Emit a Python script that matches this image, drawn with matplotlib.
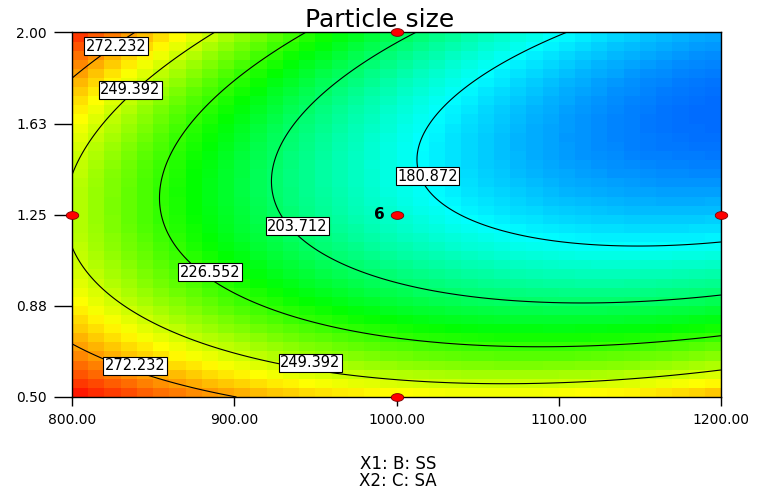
import numpy as np
import matplotlib
matplotlib.use("Agg")
import matplotlib.pyplot as plt
from matplotlib.colors import LinearSegmentedColormap
from matplotlib.path import Path

plt.rcParams['font.family'] = ['DejaVu Sans']

# ---- data ----
title = "Particle size"
x_range = [800.0, 1200.0]          # B: SS
y_range = [0.50, 2.00]             # C: SA
x_ticks = [800, 900, 1000, 1100, 1200]
x_tick_labels = ["800.00", "900.00", "1000.00", "1100.00", "1200.00"]
y_ticks = [0.50, 0.875, 1.25, 1.625, 2.00]
y_tick_labels = ["0.50", "0.88", "1.25", "1.63", "2.00"]
contour_levels = [180.872, 203.712, 226.552, 249.392, 272.232]

# quadratic response-surface coefficients (coded units), estimated from contours
b0 = 187.4
b1 = -37.7     # SS
b2 = -26.5     # SA
b12 = -24.6    # SS*SA
b11 = 22.5     # SS^2
b22 = 46.4     # SA^2

# design points
design_x = [800, 1000, 1200, 1000, 1000]
design_y = [1.25, 2.00, 1.25, 0.50, 1.25]
center_count = "6"

# contour label anchor positions (x, y) and their level
label_x = [827, 836, 939, 1019, 885, 839, 947]
label_y = [1.944, 1.765, 1.202, 1.409, 1.014, 0.628, 0.640]
label_lvl = [272.232, 249.392, 203.712, 180.872, 226.552, 272.232, 249.392]

axis_lines = ["X1: B: SS", "X2: C: SA"]


def response(X, Y):
    a = (X - 1000.0) / 200.0
    c = (Y - 1.25) / 0.75
    return b0 + b1 * a + b2 * c + b12 * a * c + b11 * a * a + b22 * c * c


fig = plt.figure(figsize=(7.59, 4.95), dpi=100)
ax = fig.add_axes([0.0949, 0.198, 0.855, 0.7364])

# colour field (blocky cells)
n = 40
xe = np.linspace(x_range[0], x_range[1], n + 1)
ye = np.linspace(y_range[0], y_range[1], n + 1)
xc = 0.5 * (xe[:-1] + xe[1:])
yc = 0.5 * (ye[:-1] + ye[1:])
XC, YC = np.meshgrid(xc, yc)
Z = response(XC, YC)
cmap = LinearSegmentedColormap.from_list(
    "de", [(0, 0, 1), (0, 1, 1), (0, 1, 0), (1, 1, 0), (1, 0, 0)])
ax.pcolormesh(xe, ye, Z, cmap=cmap, vmin=142, vmax=296, shading='flat')

# contour lines
xf = np.linspace(x_range[0], x_range[1], 300)
yf = np.linspace(y_range[0], y_range[1], 300)
XF, YF = np.meshgrid(xf, yf)
ax.contour(XF, YF, response(XF, YF), levels=contour_levels,
           colors='black', linewidths=0.8)

# contour labels
for lx, ly, lv in zip(label_x, label_y, label_lvl):
    ax.text(lx, ly, f"{lv:.3f}", ha='center', va='center', fontsize=10.5,
            zorder=5,
            bbox=dict(boxstyle='square,pad=0.1', fc='white', ec='black', lw=0.8))

# design points
th = np.linspace(0, 2 * np.pi, 41)
ell = Path(np.column_stack([np.cos(th), 0.62 * np.sin(th)]))
ax.plot(design_x, design_y, linestyle='none', marker=ell, markersize=9,
        markerfacecolor='red', markeredgecolor='#7a0000', markeredgewidth=0.6,
        clip_on=False, zorder=6)
ax.text(design_x[-1] - 7, design_y[-1], center_count, ha='right', va='center',
        fontsize=11, fontweight='bold', zorder=6)

ax.set_xlim(x_range)
ax.set_ylim(y_range)
ax.set_xticks(x_ticks)
ax.set_xticklabels(x_tick_labels, fontsize=10)
ax.set_yticks(y_ticks)
ax.set_yticklabels(y_tick_labels, fontsize=10)
ax.tick_params(axis='x', length=6.5, width=1, pad=5)
ax.tick_params(axis='y', length=13, width=1, pad=5)
for s in ax.spines.values():
    s.set_color('black')
    s.set_linewidth(1)

fig.text(0.5, 0.96, title, ha='center', va='center', fontsize=18)
fig.text(0.524, 0.062, axis_lines[0], ha='center', va='center', fontsize=12)
fig.text(0.524, 0.028, axis_lines[1], ha='center', va='center', fontsize=12)

fig.savefig("out.png", dpi=100)
